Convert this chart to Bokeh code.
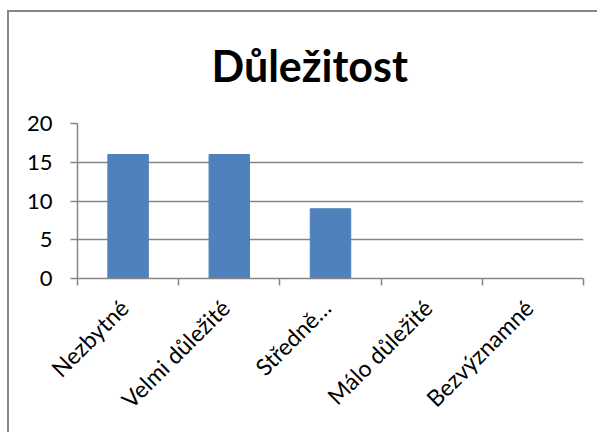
import math
from bokeh.plotting import figure
from bokeh.models import Range1d, FixedTicker
from bokeh.embed import file_html
from bokeh.resources import INLINE

categories = ["Nezbytné", "Velmi důležité", "Středně…", "Málo důležité", "Bezvýznamné"]
values = [16, 16, 9, 0, 0]
y_ticks = [0, 5, 10, 15, 20]
title_text = "Důležitost"

GRAY = "#868686"
BLUE = "#4F81BD"
FONT = "Lato"
LABEL_SHIFT = -0.04  # fine placement of the rotated category labels

xs = [i + 0.5 for i in range(len(categories))]
label_pos = [x + LABEL_SHIFT for x in xs]

frame_bg = ("linear-gradient(#868686, #868686) 0px 8px / 100% 2px no-repeat, "
            "linear-gradient(#868686, #868686) 0px 8px / 2px 100% no-repeat, white")

p = figure(width=590, height=430, frame_width=506, frame_height=155,
           min_border_left=70, min_border_right=14, min_border_top=121, min_border_bottom=154,
           x_range=Range1d(0, len(categories)), y_range=Range1d(0, 20),
           output_backend="svg", toolbar_location=None,
           styles={"margin-left": "7px", "margin-top": "2px", "background": frame_bg})

p.vbar(x=xs, top=values, width=0.4, color=BLUE)

p.title.text = title_text
p.title.align = "left"
p.title.text_font = FONT
p.title.text_font_size = "43px"
p.title.text_font_style = "bold"
p.title.text_color = "black"
p.title.offset = 134
p.title.standoff = 66

p.outline_line_color = None
p.background_fill_color = "white"
p.border_fill_color = None

p.xgrid.visible = False
p.ygrid.grid_line_color = GRAY
p.ygrid.grid_line_width = 1.5
p.ygrid.ticker = FixedTicker(ticks=y_ticks)

p.yaxis.ticker = FixedTicker(ticks=y_ticks)
p.yaxis.axis_line_color = GRAY
p.yaxis.axis_line_width = 1.5
p.yaxis.major_tick_line_color = GRAY
p.yaxis.major_tick_line_width = 1.5
p.yaxis.major_tick_out = 7
p.yaxis.major_tick_in = 0
p.yaxis.minor_tick_line_color = None
p.yaxis.major_label_text_font = FONT
p.yaxis.major_label_text_font_size = "22px"
p.yaxis.major_label_text_color = "black"
p.yaxis.major_label_standoff = 18

p.xaxis.ticker = FixedTicker(ticks=label_pos, minor_ticks=list(range(len(categories) + 1)))
p.xaxis.major_label_overrides = {x: c for x, c in zip(label_pos, categories)}
p.xaxis.axis_line_color = GRAY
p.xaxis.axis_line_width = 1.5
p.xaxis.major_tick_line_color = None
p.xaxis.minor_tick_line_color = GRAY
p.xaxis.minor_tick_line_width = 1.5
p.xaxis.minor_tick_out = 7
p.xaxis.minor_tick_in = 0
p.xaxis.major_label_orientation = math.pi / 4
p.xaxis.major_label_text_font = FONT
p.xaxis.major_label_text_font_size = "23px"
p.xaxis.major_label_text_color = "black"
p.xaxis.major_label_standoff = 18

open("out.html", "w").write(file_html(p, INLINE))
